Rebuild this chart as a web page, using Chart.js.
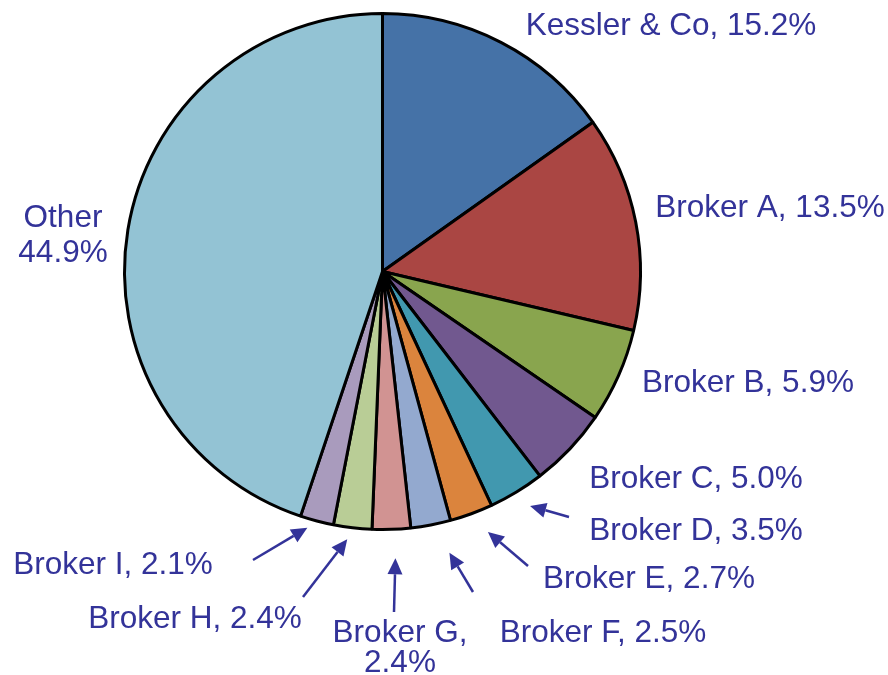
<!DOCTYPE html>
<html>
<head>
<meta charset="utf-8">
<script src="https://cdn.jsdelivr.net/npm/chart.js@4/dist/chart.umd.min.js"></script>
<style>
  html, body { margin: 0; padding: 0; background: #ffffff; }
  #wrap { width: 888px; height: 675px; }
</style>
</head>
<body>
<div id="wrap"><canvas id="c" width="888" height="675"></canvas></div>
<script>
// ---- data ----
const categories = ["Kessler & Co", "Broker A", "Broker B", "Broker C", "Broker D", "Broker E",
                    "Broker F", "Broker G", "Broker H", "Broker I", "Other"];
const shares = [15.2, 13.5, 5.9, 5.0, 3.5, 2.7, 2.5, 2.4, 2.4, 2.1, 44.9];
const colors = ["#4572A7", "#AA4643", "#89A54E", "#71588F", "#4198AF", "#DB843D",
                "#93A9CF", "#D19392", "#B9CD96", "#A99BBD", "#93C3D4"];

// ---- label layout (text anchor = centre x, first baseline y; tail = arrow start,
//      gap = distance of arrow tip beyond rim, dAng = tip angle nudge in degrees) ----
const labelLayout = [
  { x: 671, y: 35 },                                                  // Kessler
  { x: 770, y: 217 },                                                 // A
  { x: 748, y: 392 },                                                 // B
  { x: 696, y: 488 },                                                 // C
  { x: 696, y: 540, tail: [569, 517], gap: 19, dAng: -0.9 },          // D
  { x: 649, y: 588, tail: [528, 566], gap: 23, dAng: -1.9 },          // E
  { x: 603, y: 642, tail: [473, 592], gap: 31, dAng: -2.6 },          // F
  { x: 400, y: 642, lh: 30, split: true, tail: [394, 612], gap: 29, dAng: -0.6 }, // G
  { x: 195, y: 628, tail: [303, 597], gap: 12, dAng: 0.85 },          // H
  { x: 113, y: 574, tail: [253, 560], gap: 9, dAng: 1.6 },            // I
  { x: 63,  y: 227, lh: 35, split: true }                             // Other
];
const textColor = "#333399";
const FONT = "31.5px 'Liberation Sans', Arial, sans-serif";

function drawArrow(ctx, x0, y0, x1, y1) {
  const ang = Math.atan2(y1 - y0, x1 - x0);
  const headLen = 16, headHalf = 7.5;
  const bx = x1 - headLen * Math.cos(ang), by = y1 - headLen * Math.sin(ang);
  ctx.beginPath();
  ctx.moveTo(x0, y0);
  ctx.lineTo(bx, by);
  ctx.stroke();
  ctx.beginPath();
  ctx.moveTo(x1, y1);
  ctx.lineTo(bx + headHalf * Math.sin(ang), by - headHalf * Math.cos(ang));
  ctx.lineTo(bx - headHalf * Math.sin(ang), by + headHalf * Math.cos(ang));
  ctx.closePath();
  ctx.fill();
}

const labelPlugin = {
  id: 'pieLabels',
  afterDatasetsDraw(chart) {
    const ctx = chart.ctx;
    const meta = chart.getDatasetMeta(0);
    ctx.save();
    ctx.font = FONT;
    ctx.fillStyle = textColor;
    ctx.strokeStyle = textColor;
    ctx.lineWidth = 2.5;
    ctx.textAlign = 'center';
    ctx.textBaseline = 'alphabetic';
    meta.data.forEach((arc, i) => {
      const L = labelLayout[i];
      const pct = shares[i].toFixed(1) + '%';
      if (L.split) {
        const first = i === categories.length - 1 ? categories[i] : categories[i] + ',';
        ctx.fillText(first, L.x, L.y);
        ctx.fillText(pct, L.x, L.y + L.lh);
      } else {
        ctx.fillText(categories[i] + ', ' + pct, L.x, L.y);
      }
      if (L.tail) {
        const p = arc.getProps(['x', 'y', 'startAngle', 'endAngle', 'outerRadius'], true);
        const mid = (p.startAngle + p.endAngle) / 2 + (L.dAng || 0) * Math.PI / 180;
        const r = p.outerRadius + (L.gap || 22);
        const tx = p.x + r * Math.cos(mid), ty = p.y + r * Math.sin(mid);
        drawArrow(ctx, L.tail[0], L.tail[1], tx, ty);
      }
    });
    ctx.restore();
  }
};

new Chart(document.getElementById('c'), {
  type: 'pie',
  data: {
    labels: categories,
    datasets: [{
      data: shares,
      backgroundColor: colors,
      borderColor: '#000000',
      borderWidth: 3
    }]
  },
  options: {
    responsive: false,
    devicePixelRatio: 1,
    animation: false,
    layout: { padding: { left: 123, top: 12, right: 246, bottom: 144 } },
    plugins: { legend: { display: false }, tooltip: { enabled: false } }
  },
  plugins: [labelPlugin]
});
</script>
</body>
</html>
